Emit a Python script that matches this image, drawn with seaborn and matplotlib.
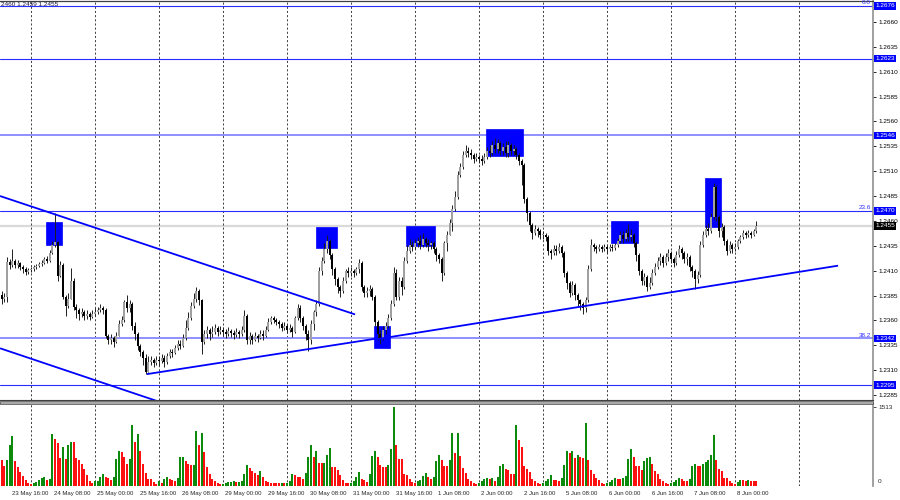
import numpy as np
import pandas as pd
import matplotlib
matplotlib.use('Agg')
import matplotlib.pyplot as plt
import matplotlib.transforms as mtransforms
from matplotlib.patches import Rectangle
import seaborn as sns

# GBPUSD H1, 23 May 13:00 .. 8 Jun 08:00 (weekends removed)
# prices are given in pips above BASE
BASE = 1.2300
open_first = 86

close_pips = [
    82, 84, 119, 116, 120, 116, 118, 114, 112, 109, 111,
    112, 114, 115, 117, 118, 122, 120, 128, 136, 139, 105, 116, 84, 74, 82, 100, 73, 70, 66, 68, 64, 66, 63, 66,
    68, 70, 72, 70, 44, 40, 42, 38, 44, 56, 60, 78, 72, 76, 54, 46, 34, 28, 22, 8, 18, 20, 17, 20,
    19, 22, 18, 24, 28, 27, 32, 36, 34, 42, 52, 62, 74, 82, 90, 80, 38, 46, 50, 46, 48, 52, 48, 50,
    48, 46, 49, 47, 45, 48, 46, 50, 64, 40, 44, 40, 44, 42, 46, 44, 50, 58, 62, 60, 58, 56, 52, 54,
    50, 52, 48, 62, 72, 62, 54, 46, 40, 56, 68, 76, 110, 120, 132, 140, 126, 112, 102, 94, 90, 100, 110, 108,
    110, 108, 112, 118, 94, 88, 90, 92, 84, 58, 46, 42, 50, 54, 62, 76, 108, 84, 100, 94, 120, 130, 136, 134,
    138, 140, 136, 142, 138, 136, 138, 132, 126, 122, 108, 138, 146, 158, 172, 184, 206, 214, 226, 230, 228, 226, 222, 224,
    222, 220, 224, 230, 228, 236, 232, 238, 230, 234, 228, 236, 230, 232, 226, 220, 216, 182, 168, 156, 148, 152, 150, 146,
    146, 144, 130, 128, 132, 130, 134, 128, 108, 98, 88, 96, 86, 80, 76, 72, 80, 112, 136, 134, 132, 134, 132, 134,
    132, 134, 133, 136, 140, 146, 142, 148, 144, 146, 138, 126, 110, 100, 104, 94, 98, 108, 114, 120, 124, 118, 124, 128,
    122, 118, 126, 132, 128, 122, 124, 114, 110, 102, 106, 136, 146, 152, 150, 164, 194, 164, 150, 154, 140, 130, 136, 132,
    134, 140, 144, 148, 146, 148, 146, 150, 155,
]
high_pips = [
    90, 88, 124, 122, 132, 122, 121, 119, 116, 114, 113,
    114, 116, 117, 119, 121, 124, 125, 131, 140, 168, 140, 120, 118, 86, 88, 113, 103, 76, 72, 72, 70, 70, 68, 70,
    72, 73, 76, 74, 72, 46, 46, 44, 48, 60, 64, 80, 86, 80, 78, 58, 48, 36, 30, 26, 24, 24, 22, 24,
    24, 26, 25, 27, 31, 31, 35, 40, 40, 46, 60, 68, 78, 88, 94, 92, 82, 50, 54, 52, 54, 56, 54, 54,
    53, 51, 53, 51, 50, 52, 50, 54, 70, 66, 48, 46, 48, 46, 50, 50, 54, 62, 64, 64, 62, 60, 58, 58,
    56, 56, 54, 64, 76, 75, 64, 56, 50, 60, 70, 80, 114, 124, 138, 146, 142, 128, 114, 104, 96, 104, 112, 114,
    114, 112, 114, 122, 120, 96, 94, 96, 94, 86, 60, 50, 54, 58, 66, 80, 114, 112, 104, 104, 124, 136, 142, 140,
    142, 144, 146, 148, 144, 142, 140, 140, 134, 128, 124, 140, 150, 162, 176, 190, 210, 218, 230, 236, 234, 232, 228, 228,
    226, 226, 228, 234, 236, 240, 243, 242, 240, 238, 240, 240, 238, 236, 234, 228, 222, 218, 184, 170, 158, 156, 154, 152,
    150, 148, 146, 132, 136, 136, 138, 136, 130, 110, 100, 100, 98, 88, 82, 78, 84, 116, 142, 138, 136, 137, 136, 137,
    136, 137, 137, 138, 143, 150, 150, 152, 157, 152, 148, 140, 128, 112, 108, 106, 104, 112, 118, 124, 128, 126, 128, 132,
    130, 124, 130, 136, 134, 130, 128, 126, 116, 112, 110, 140, 150, 156, 158, 168, 198, 196, 166, 158, 156, 142, 140, 138,
    138, 142, 146, 151, 150, 151, 150, 152, 160,
]
low_pips = [
    76, 78, 78, 112, 114, 113, 113, 111, 108, 106, 107,
    109, 110, 112, 114, 115, 117, 118, 119, 127, 134, 100, 104, 82, 64, 72, 82, 70, 62, 60, 63, 60, 61, 60, 62,
    64, 66, 68, 66, 42, 36, 36, 33, 37, 44, 54, 58, 68, 68, 50, 40, 30, 24, 15, 6, 8, 15, 13, 15,
    14, 17, 13, 16, 22, 23, 26, 30, 31, 33, 40, 50, 60, 72, 78, 75, 26, 36, 42, 40, 43, 46, 44, 46,
    44, 42, 44, 43, 41, 43, 42, 44, 48, 36, 36, 36, 39, 38, 41, 40, 43, 49, 56, 57, 55, 52, 49, 50,
    47, 48, 43, 47, 60, 58, 50, 40, 29, 36, 50, 64, 74, 106, 118, 128, 122, 106, 96, 88, 84, 88, 98, 104,
    105, 104, 106, 108, 90, 84, 84, 85, 80, 54, 40, 36, 40, 46, 52, 60, 74, 80, 80, 86, 92, 118, 128, 130,
    132, 134, 132, 134, 134, 130, 132, 128, 120, 118, 100, 106, 130, 146, 150, 170, 182, 204, 212, 224, 224, 222, 218, 220,
    218, 216, 218, 222, 224, 226, 228, 228, 226, 226, 224, 224, 226, 226, 222, 216, 196, 178, 160, 150, 142, 146, 144, 142,
    142, 140, 126, 122, 126, 126, 128, 124, 104, 92, 84, 86, 80, 74, 70, 66, 68, 78, 110, 130, 128, 130, 129, 130,
    128, 130, 130, 131, 134, 138, 138, 140, 140, 140, 134, 120, 106, 96, 96, 90, 92, 96, 106, 112, 116, 114, 116, 120,
    118, 114, 116, 124, 122, 118, 116, 110, 104, 92, 98, 104, 134, 144, 146, 148, 162, 160, 144, 144, 136, 126, 128, 128,
    130, 132, 138, 142, 143, 144, 143, 145, 148,
]
volume = [
    490, 376, 504, 790, 957, 478, 364, 274, 185, 108, 64,
    38, 60, 80, 115, 150, 180, 110, 140, 990, 906, 830, 542, 746, 523, 778, 842, 835, 542, 491, 415, 319, 217, 89, 64,
    89, 89, 172, 223, 172, 153, 108, 166, 510, 670, 650, 555, 427, 523, 1174, 842, 989, 664, 427, 249, 140, 135, 77, 45,
    89, 64, 140, 178, 140, 108, 90, 150, 548, 548, 472, 427, 395, 395, 1053, 791, 1021, 650, 364, 223, 128, 89, 51, 38,
    45, 60, 70, 80, 100, 75, 85, 95, 230, 410, 345, 280, 255, 215, 280, 170, 90, 70, 62, 58, 56, 52, 54, 50,
    64, 89, 236, 204, 172, 170, 140, 249, 555, 790, 555, 664, 447, 440, 445, 600, 730, 364, 360, 300, 217, 108, 64, 51,
    64, 89, 172, 268, 140, 108, 70, 236, 568, 670, 555, 396, 364, 360, 396, 700, 1513, 791, 523, 510, 223, 220, 128, 70,
    64, 89, 120, 190, 255, 172, 140, 172, 478, 600, 490, 383, 380, 490, 1021, 638, 1021, 568, 351, 255, 140, 89, 57, 45,
    64, 89, 128, 160, 128, 153, 96, 166, 383, 427, 332, 300, 230, 223, 1160, 874, 746, 376, 319, 268, 128, 102, 64, 45,
    64, 96, 128, 204, 115, 108, 105, 153, 396, 670, 638, 670, 536, 600, 549, 545, 1212, 491, 300, 223, 160, 121, 57, 45,
    57, 77, 108, 153, 140, 128, 153, 191, 510, 702, 555, 383, 380, 300, 472, 536, 555, 415, 281, 223, 128, 102, 64, 38,
    51, 77, 108, 160, 128, 102, 89, 128, 383, 415, 383, 380, 415, 460, 491, 600, 983, 491, 319, 281, 153, 150, 89, 51,
    45, 77, 121, 108, 102, 121, 102, 96, 94,
]

# horizontal levels (price, soft colour?)
levels = [1.2676, 1.2623, 1.2546, 1.2470, 1.2342, 1.2295]
level_soft = [False, False, True, False, True, False]
fibo_names = {1.2676: '0.0', 1.2470: '23.6', 1.2342: '38.2'}
last_price = 1.2455
header = '2460 1.2459 1.2455'

# blue marker boxes: bar from, bar to, price low, price high
boxes = [
    (16.5, 22.5, 1.2436, 1.2459),
    (117.8, 125.6, 1.2433, 1.2454),
    (151.6, 162.5, 1.2435, 1.2455),
    (139.6, 145.6, 1.2332, 1.2354),
    (181.6, 195.4, 1.2525, 1.2552),
    (228.6, 238.5, 1.2438, 1.2460),
    (263.6, 269.6, 1.2454, 1.2503),
]
# trend lines: (bar, price) -> (bar, price)
trendlines = [
    ((-0.64, 1.2485), (132.5, 1.2366)),
    ((-0.64, 1.2332), (58.2, 1.2279)),
    ((54.4, 1.2306), (141.1, 1.2342)),
    ((140.3, 1.2341), (313.6, 1.2415)),
]

time_labels = ['23 May 16:00', '24 May 08:00', '25 May 00:00', '25 May 16:00', '26 May 08:00',
               '29 May 00:00', '29 May 16:00', '30 May 08:00', '31 May 00:00', '31 May 16:00',
               '1 Jun 08:00', '2 Jun 00:00', '2 Jun 16:00', '5 Jun 08:00', '6 Jun 00:00',
               '6 Jun 16:00', '7 Jun 08:00', '8 Jun 00:00']
label_bars = [3, 19, 35, 51, 67, 83, 99, 115, 131, 147, 163, 179, 195, 211, 227, 243, 259, 275]
day_bars = [11, 35, 59, 83, 107, 131, 155, 179, 203, 227, 251, 275, 299]
price_ticks = [1.2285, 1.2310, 1.2335, 1.2360, 1.2385, 1.2410, 1.2435, 1.2460,
               1.2485, 1.2510, 1.2535, 1.2560, 1.2585, 1.2610, 1.2635, 1.2660]

# ---- frame ----
c = BASE + np.array(close_pips) / 10000
o = BASE + np.array([open_first] + close_pips[:-1]) / 10000
h = np.maximum.reduce([BASE + np.array(high_pips) / 10000, o, c])
l = np.minimum.reduce([BASE + np.array(low_pips) / 10000, o, c])
n = len(c)
d = pd.DataFrame({'bar': np.arange(n), 'open': o, 'high': h, 'low': l, 'close': c, 'vol': volume})
d['up'] = d['close'] >= d['open']
# MT4 volumes: green when volume grows vs previous bar
d['vcol'] = ['#ff1010'] + ['#0b8a0b' if volume[i] >= volume[i - 1] else '#ff1010' for i in range(1, n)]

sns.set_style('white')
plt.rcParams['font.family'] = ['Liberation Sans', 'DejaVu Sans']

fig = plt.figure(figsize=(9, 5), dpi=100)
W = 873 / 900
ax = fig.add_axes([0, 100 / 500, W, 399 / 500])
axv = fig.add_axes([0, 14 / 500, W, 83 / 500])
xl = (-0.64, 326.7)

# day separators
for b in day_bars:
    for a in (ax, axv):
        a.axvline(b, color='#202020', lw=0.6, ls=(0, (2.5, 2.5)), zorder=0.5)

# levels
ax.axhline(last_price, color='#d9d9d9', lw=1.6, zorder=0.4)
for p, soft in zip(levels, level_soft):
    ax.axhline(p, color='#8f8fff' if soft else '#2b2bff', lw=1.4 if soft else 0.8, zorder=0.6)

# boxes
for x0, x1, p0, p1 in boxes:
    ax.add_patch(Rectangle((x0, p0), x1 - x0, p1 - p0, fc='#0000ff', ec='#0000ff', lw=0.5, zorder=1))

# candles
ax.vlines(d['bar'], d['low'], d['high'], color='#1e1e1e', lw=0.7, zorder=2)
body = (d['close'] - d['open']).abs().clip(lower=0.00008)
bot = d[['open', 'close']].min(axis=1)
up = d['up']
ax.bar(d['bar'][up], body[up], bottom=bot[up], width=0.72, color='#a0a0a0', lw=0, zorder=3)
ax.bar(d['bar'][~up], body[~up], bottom=bot[~up], width=0.72, color='#000000', lw=0, zorder=3)

# trend lines
for (x0, p0), (x1, p1) in trendlines:
    ax.plot([x0, x1], [p0, p1], color='#0000ff', lw=1.3, zorder=4, solid_capstyle='butt')

ax.set_xlim(*xl)
ax.set_ylim(1.2280, 1.2681)
ax.set_xticks([])
ax.yaxis.tick_right()
ax.set_yticks(price_ticks, [f'{p:.4f}' for p in price_ticks])
ax.tick_params(axis='y', labelsize=4.6, length=2.5, width=0.6, pad=1.2, colors='#000000')
ax.spines['left'].set_visible(False)
ax.spines['top'].set_color('#404040')
ax.spines['top'].set_linewidth(0.9)
ax.spines['right'].set_color('#909090')
ax.spines['right'].set_linewidth(1.2)
ax.spines['bottom'].set_color('#404040')
ax.spines['bottom'].set_linewidth(0.8)

# right-side level labels
for p in levels:
    ax.annotate(f'{p:.4f}', xy=(1, p), xycoords=('axes fraction', 'data'), xytext=(1.6, 0),
                textcoords='offset points', ha='left', va='center', fontsize=4.6, color='white',
                bbox=dict(boxstyle='square,pad=0.18', fc='#0000ff', ec='none'),
                annotation_clip=False, zorder=6)
ax.annotate(f'{last_price:.4f}', xy=(1, last_price), xycoords=('axes fraction', 'data'), xytext=(1.6, 0),
            textcoords='offset points', ha='left', va='center', fontsize=4.6, color='white',
            bbox=dict(boxstyle='square,pad=0.18', fc='#000000', ec='none'),
            annotation_clip=False, zorder=6)
for p, t in fibo_names.items():
    ax.annotate(t, xy=(1, p), xycoords=('axes fraction', 'data'), xytext=(-1.5, 0.4),
                textcoords='offset points', ha='right', va='bottom', fontsize=4.6, color='#3030ff',
                annotation_clip=False)

fig.text(1 / 900, 1 - 5 / 500, header, fontsize=4.6, color='#1a1a40', ha='left', va='center')

# separator band between panes
fig.patches.append(Rectangle((0, 1 - 403.5 / 500), W, 3 / 500, transform=fig.transFigure,
                             fc='#a8a8a8', ec='#505050', lw=0.5))

# volumes
axv.bar(d['bar'], d['vol'], width=0.78, color=d['vcol'], lw=0, zorder=2)
axv.set_xlim(*xl)
axv.set_ylim(0, 1590)
axv.yaxis.tick_right()
axv.set_yticks([1513], ['1513'])
axv.tick_params(axis='y', labelsize=4.6, length=2.5, width=0.6, pad=1.2)
axv.text(1.006, 0.06, '0', transform=axv.transAxes, fontsize=4.6, ha='left', va='center')
axv.set_xticks(label_bars, time_labels)
axv.tick_params(axis='x', labelsize=4.3, length=2, width=0.6, pad=1.5, direction='out')
off = mtransforms.ScaledTranslation(2 / 100, 0, fig.dpi_scale_trans)
for lbl in axv.get_xticklabels():
    lbl.set_ha('left')
    lbl.set_transform(lbl.get_transform() + off)
for s in ['left', 'bottom']:
    axv.spines[s].set_visible(False)
axv.spines['top'].set_color('#404040')
axv.spines['top'].set_linewidth(0.8)
axv.spines['right'].set_color('#909090')
axv.spines['right'].set_linewidth(1.2)

fig.savefig('out.png', dpi=100)
